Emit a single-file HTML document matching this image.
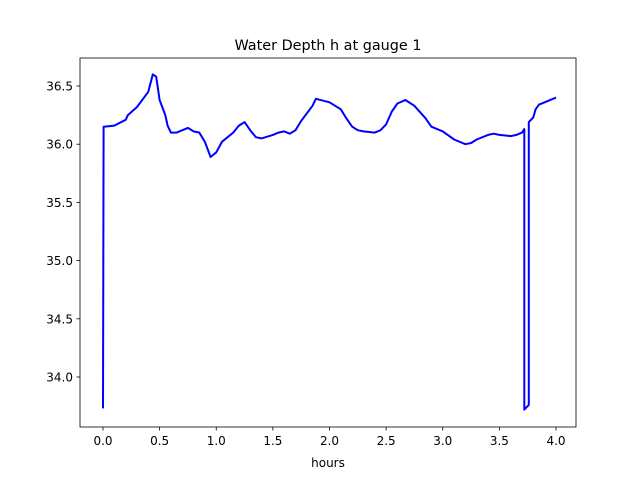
<!DOCTYPE html>
<html><head><meta charset="utf-8"><style>
body{margin:0;background:#fff}
svg{display:block;font-family:"DejaVu Sans","Liberation Sans",sans-serif}
</style></head><body>
<svg id="chart" width="640" height="480" viewBox="0 0 640 480">
<rect width="640" height="480" fill="#fff"/>
<text x="328" y="50" text-anchor="middle" font-size="14.4">Water Depth h at gauge 1</text>
<g id="ticks"></g>
<path id="line" fill="none" stroke="#0000ff" stroke-width="2" stroke-linejoin="round"/>
<rect x="80" y="58" width="496" height="369" fill="none" stroke="#000" stroke-width="0.8"/>
<text x="328" y="467" text-anchor="middle" font-size="12">hours</text>
</svg>
<script>
const hours=[0,0.005,0.1,0.2,0.22,0.3,0.4,0.44,0.47,0.5,0.55,0.57,0.6,0.65,0.75,0.8,0.85,0.9,0.95,1.0,1.05,1.1,1.15,1.2,1.25,1.3,1.35,1.4,1.5,1.55,1.6,1.65,1.7,1.75,1.85,1.88,2.0,2.1,2.15,2.2,2.25,2.3,2.4,2.45,2.5,2.55,2.6,2.67,2.75,2.85,2.9,3.0,3.1,3.2,3.25,3.3,3.4,3.45,3.5,3.6,3.65,3.7,3.72,3.72,3.76,3.76,3.8,3.82,3.85,3.9,4.0];
const depth=[33.73,36.15,36.16,36.21,36.25,36.32,36.45,36.6,36.58,36.38,36.25,36.16,36.1,36.1,36.14,36.11,36.1,36.02,35.89,35.93,36.02,36.06,36.1,36.16,36.19,36.12,36.06,36.05,36.08,36.1,36.11,36.09,36.12,36.2,36.33,36.39,36.36,36.3,36.22,36.15,36.12,36.11,36.1,36.12,36.17,36.28,36.35,36.38,36.33,36.22,36.15,36.11,36.04,36.0,36.01,36.04,36.08,36.09,36.08,36.07,36.08,36.1,36.13,33.72,33.76,36.19,36.23,36.3,36.34,36.36,36.4];
const xTicks=[0,0.5,1,1.5,2,2.5,3,3.5,4];
const xTickLabels=["0.0","0.5","1.0","1.5","2.0","2.5","3.0","3.5","4.0"];
const yTicks=[34,34.5,35,35.5,36,36.5];
const yTickLabels=["34.0","34.5","35.0","35.5","36.0","36.5"];
const xs=h=>103+h*113.25;
const ys=d=>86+(36.5-d)*116.4;
const NS="http://www.w3.org/2000/svg";
const g=document.getElementById('ticks');
xTicks.forEach((t,i)=>{
  const l=document.createElementNS(NS,'line');
  l.setAttribute('x1',xs(t));l.setAttribute('x2',xs(t));l.setAttribute('y1',427);l.setAttribute('y2',430.5);l.setAttribute('stroke','#000');l.setAttribute('stroke-width','0.8');
  
  
  g.appendChild(l);
  const tx=document.createElementNS(NS,'text');
  tx.setAttribute('x',xs(t));tx.setAttribute('y',445);tx.setAttribute('text-anchor','middle');tx.setAttribute('font-size','12');
  tx.textContent=xTickLabels[i];
  
  
  g.appendChild(tx);
});
yTicks.forEach((t,i)=>{
  const l=document.createElementNS(NS,'line');
  l.setAttribute('x1',76.5);l.setAttribute('x2',80);l.setAttribute('y1',ys(t));l.setAttribute('y2',ys(t));l.setAttribute('stroke','#000');l.setAttribute('stroke-width','0.8');
  
  
  g.appendChild(l);
  const tx=document.createElementNS(NS,'text');
  tx.setAttribute('x',73);tx.setAttribute('y',ys(t)+4.5);tx.setAttribute('text-anchor','end');tx.setAttribute('font-size','12');
  tx.textContent=yTickLabels[i];
  
  
  g.appendChild(tx);
});
document.getElementById('line').setAttribute('d',hours.map((h,i)=>(i?'L':'M')+xs(h).toFixed(1)+','+ys(depth[i]).toFixed(1)).join(''));
</script>
</body></html>
